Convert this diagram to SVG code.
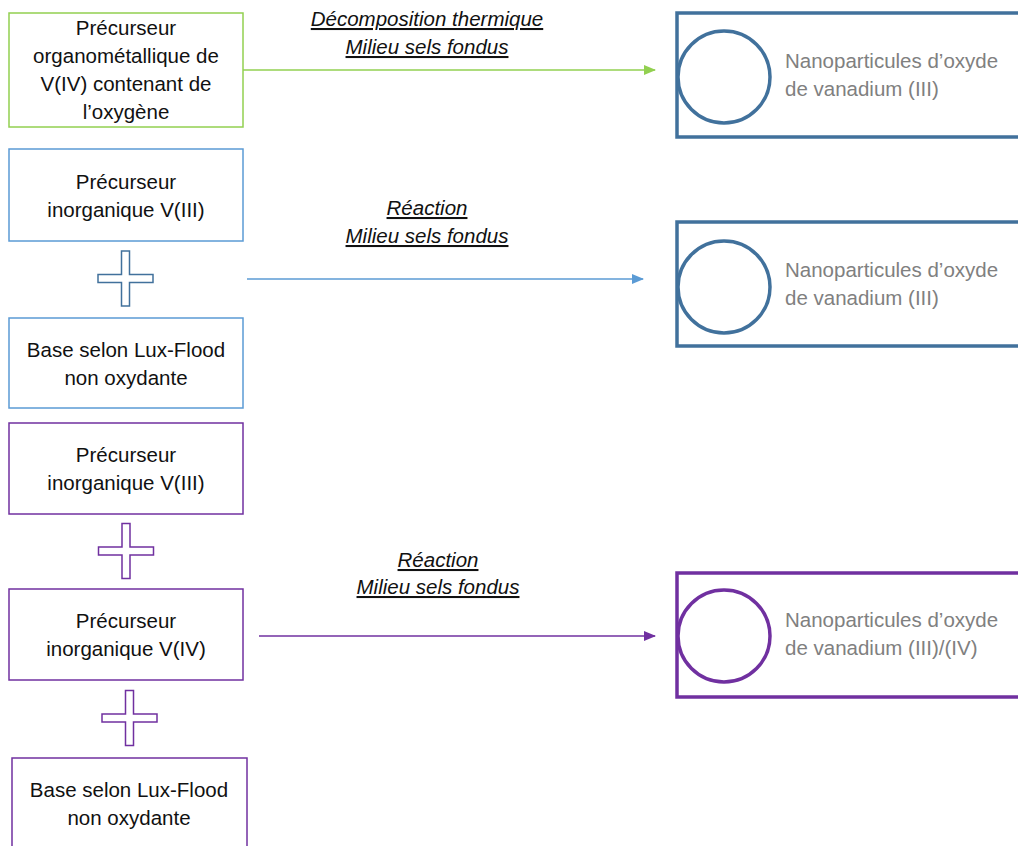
<svg xmlns="http://www.w3.org/2000/svg" width="1018" height="846" viewBox="0 0 1018 846">
<style>
.box{fill:#fff;stroke-width:1.5}
.g{stroke:#92D050}
.b{stroke:#5B9BD5}
.p{stroke:#7030A0}
.t{font-family:"Liberation Sans",Arial,sans-serif;font-size:20.5px;fill:#111;text-anchor:middle}
.n{font-family:"Liberation Sans",Arial,sans-serif;font-size:20.5px;fill:#808080}
.lab{font-family:"Liberation Sans",Arial,sans-serif;font-size:20.5px;font-style:italic;text-decoration:underline;fill:#111;text-anchor:middle}
.res{fill:#fff;stroke-width:3.5}
.plus{stroke-width:1.5;fill:#fff}
</style>
<defs>
<marker id="ag" markerWidth="12" markerHeight="10" refX="11" refY="5" orient="auto" markerUnits="userSpaceOnUse"><path d="M0,0 L12,5 L0,10 z" fill="#92D050"/></marker>
<marker id="ab" markerWidth="12" markerHeight="10" refX="11" refY="5" orient="auto" markerUnits="userSpaceOnUse"><path d="M0,0 L12,5 L0,10 z" fill="#5B9BD5"/></marker>
<marker id="ap" markerWidth="12" markerHeight="10" refX="11" refY="5" orient="auto" markerUnits="userSpaceOnUse"><path d="M0,0 L12,5 L0,10 z" fill="#7030A0"/></marker>
<path id="plusShape" d="M-4,-27.5 H4 V-4 H27.5 V4 H4 V27.5 H-4 V4 H-27.5 V-4 H-4 Z"/>
</defs>

<g id="n1">
<rect class="box g" x="9" y="13" width="234" height="114"/>
<text class="t" x="126" y="35">Précurseur</text>
<text class="t" x="126" y="63">organométallique de</text>
<text class="t" x="126" y="91">V(IV) contenant de</text>
<text class="t" x="126" y="119">l’oxygène</text>
</g>
<g id="n2">
<rect class="box b" x="9" y="149" width="234" height="92"/>
<text class="t" x="126" y="189">Précurseur</text>
<text class="t" x="126" y="217">inorganique V(III)</text>
</g>
<g id="plus1"><use href="#plusShape" class="plus" stroke="#41719C" transform="translate(125.5,278.5)"/></g>
<g id="n3">
<rect class="box b" x="9" y="318" width="234" height="90"/>
<text class="t" x="126" y="357">Base selon Lux-Flood</text>
<text class="t" x="126" y="385">non oxydante</text>
</g>
<g id="n4">
<rect class="box p" x="9" y="423" width="234" height="91"/>
<text class="t" x="126" y="462">Précurseur</text>
<text class="t" x="126" y="490">inorganique V(III)</text>
</g>
<g id="plus2"><use href="#plusShape" class="plus" stroke="#7030A0" transform="translate(126,551)"/></g>
<g id="n5">
<rect class="box p" x="9" y="589" width="234" height="91"/>
<text class="t" x="126" y="628">Précurseur</text>
<text class="t" x="126" y="656">inorganique V(IV)</text>
</g>
<g id="plus3"><use href="#plusShape" class="plus" stroke="#7030A0" transform="translate(129.5,718)"/></g>
<g id="n6">
<rect class="box p" x="12" y="758" width="235" height="100"/>
<text class="t" x="129" y="797">Base selon Lux-Flood</text>
<text class="t" x="129" y="825">non oxydante</text>
</g>

<g id="r1">
<rect class="res" x="677" y="13" width="360" height="124" stroke="#41719C"/>
<circle cx="724" cy="77" r="46" fill="#fff" stroke="#41719C" stroke-width="3.5"/>
<text class="n" x="785" y="68">Nanoparticules d’oxyde</text>
<text class="n" x="785" y="96">de vanadium (III)</text>
</g>
<g id="r2">
<rect class="res" x="677" y="222" width="360" height="124" stroke="#41719C"/>
<circle cx="724" cy="287" r="46" fill="#fff" stroke="#41719C" stroke-width="3.5"/>
<text class="n" x="785" y="277">Nanoparticules d’oxyde</text>
<text class="n" x="785" y="305">de vanadium (III)</text>
</g>
<g id="r3">
<rect class="res" x="677" y="573" width="360" height="124" stroke="#7030A0"/>
<circle cx="724" cy="636" r="46" fill="#fff" stroke="#7030A0" stroke-width="3.5"/>
<text class="n" x="785" y="627">Nanoparticules d’oxyde</text>
<text class="n" x="785" y="655">de vanadium (III)/(IV)</text>
</g>

<g id="connectors">
<line x1="243" y1="70" x2="655" y2="70" stroke="#92D050" stroke-width="1.5" marker-end="url(#ag)"/>
<line x1="247" y1="279" x2="643" y2="279" stroke="#5B9BD5" stroke-width="1.5" marker-end="url(#ab)"/>
<line x1="259" y1="636" x2="655" y2="636" stroke="#7030A0" stroke-width="1.5" marker-end="url(#ap)"/>
<text class="lab" x="427" y="26">Décomposition thermique</text>
<text class="lab" x="427" y="54">Milieu sels fondus</text>
<text class="lab" x="427" y="215">Réaction</text>
<text class="lab" x="427" y="243">Milieu sels fondus</text>
<text class="lab" x="438" y="567">Réaction</text>
<text class="lab" x="438" y="594">Milieu sels fondus</text>
</g>
</svg>
